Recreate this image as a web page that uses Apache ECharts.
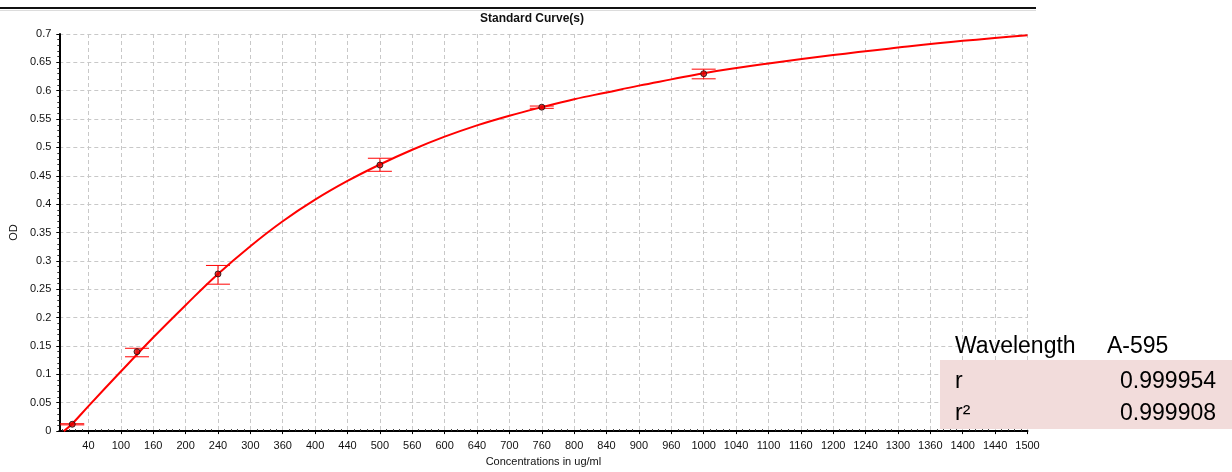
<!DOCTYPE html>
<html>
<head>
<meta charset="utf-8">
<title>Standard Curve(s)</title>
<script src="https://cdn.jsdelivr.net/npm/echarts@6/dist/echarts.min.js"></script>
<style>
  html, body { margin: 0; padding: 0; background: #fff; }
  #chart { width: 1232px; height: 472px; }
</style>
</head>
<body>
<div id="chart"></div>
<script>
// Standards (ug/ml) with mean OD and the low / high ends of the error bars
const standardConc = [25, 125, 250, 500, 750, 1000];
const standardOD   = [0.012, 0.140, 0.277, 0.469, 0.571, 0.630];
const errLow       = [0.011, 0.131, 0.259, 0.458, 0.569, 0.621];
const errHigh      = [0.013, 0.146, 0.292, 0.481, 0.573, 0.638];

// Fitted standard curve, sampled along the concentration range
const curveConc = [12, 25, 50, 100, 150, 200, 250, 300, 350, 400, 450, 500, 550, 600,
                   650, 700, 750, 800, 850, 900, 950, 1000, 1100, 1200, 1300, 1400, 1500];
const curveOD   = [0.000, 0.013, 0.044, 0.105, 0.165, 0.222, 0.277, 0.326, 0.370, 0.408,
                   0.441, 0.470, 0.496, 0.519, 0.539, 0.556, 0.571, 0.585, 0.597, 0.609,
                   0.620, 0.631, 0.648, 0.663, 0.676, 0.688, 0.698];

// Concentration axis ticks and the labels printed under them
const xTickValues = [50, 100, 150, 200, 250, 300, 350, 400, 450, 500, 550, 600, 650, 700, 750,
                     800, 850, 900, 950, 1000, 1050, 1100, 1150, 1200, 1250, 1300, 1350, 1400, 1450, 1500];
const xTickLabels = ['40', '100', '160', '200', '240', '300', '360', '400', '440', '500', '560', '600',
                     '640', '700', '760', '800', '840', '900', '960', '1000', '1040', '1100', '1160',
                     '1200', '1240', '1300', '1360', '1400', '1440', '1500'];
const xMinorValues = [];
for (let i = 0; i < xTickValues.length; i++) {
  for (let k = 1; k < 5; k++) xMinorValues.push(xTickValues[i] - k * 10);
}

// Fit statistics table
const statWavelength = 'A-595';
const statR  = '0.999954';
const statR2 = '0.999908';

const FONT = '"Liberation Sans", Arial, sans-serif';
const RED = '#ff0000';

const chart = echarts.init(document.getElementById('chart'), null, { renderer: 'canvas' });

const curveData = curveConc.map((c, i) => [c, curveOD[i]]);
const pointData = standardConc.map((c, i) => [c, standardOD[i]]);
const errData = standardConc.map((c, i) => [c, errLow[i], errHigh[i]]);

chart.setOption({
  animation: false,
  backgroundColor: '#ffffff',
  title: {
    text: 'Standard Curve(s)',
    left: 480,
    top: 13,
    padding: 0,
    textStyle: { fontFamily: FONT, fontSize: 12, fontWeight: 'bold', color: '#111' }
  },
  grid: { left: 58, top: 34, right: 204.5, bottom: 38, containLabel: false },
  xAxis: [
    {
      type: 'value',
      min: 5,
      max: 1500,
      position: 'bottom',
      name: 'Concentrations in ug/ml',
      nameLocation: 'middle',
      nameGap: 24,
      nameTextStyle: { fontFamily: FONT, fontSize: 11, color: '#111' },
      axisLine: { show: true, onZero: false, lineStyle: { color: '#000', width: 2 } },
      axisTick: { show: true, customValues: xTickValues, length: 3, lineStyle: { color: '#000' } },
      axisLabel: {
        customValues: xTickValues,
        margin: 9,
        fontFamily: FONT,
        fontSize: 11,
        color: '#111',
        formatter: function (v) {
          const idx = xTickValues.indexOf(Math.round(v));
          return idx >= 0 ? xTickLabels[idx] : '';
        }
      },
      splitLine: { show: true, lineStyle: { color: '#c8c8c8', type: [4, 3], width: 1 } }
    },
    {
      type: 'value',
      min: 5,
      max: 1500,
      position: 'bottom',
      axisLine: { show: false },
      axisTick: { show: true, inside: true, customValues: xMinorValues, length: 2, lineStyle: { color: '#333' } },
      axisLabel: { show: false },
      splitLine: { show: false }
    }
  ],
  yAxis: {
    type: 'value',
    min: 0,
    max: 0.7,
    interval: 0.05,
    name: 'OD',
    nameLocation: 'middle',
    nameRotate: 90,
    nameGap: 34,
    nameTextStyle: { fontFamily: FONT, fontSize: 11, color: '#111' },
    axisLine: { show: true, lineStyle: { color: '#000', width: 2 } },
    axisTick: { show: true, length: 3, lineStyle: { color: '#000' } },
    minorTick: { show: true, splitNumber: 5, length: 2, lineStyle: { color: '#333' } },
    axisLabel: {
      margin: 8,
      fontFamily: FONT,
      fontSize: 11,
      color: '#111',
      formatter: function (v) { return String(+v.toFixed(2)); }
    },
    splitLine: { show: true, lineStyle: { color: '#c8c8c8', type: [4, 3], width: 1 } }
  },
  series: [
    {
      name: 'curve',
      type: 'line',
      data: curveData,
      smooth: 0.4,
      showSymbol: false,
      symbol: 'none',
      clip: true,
      lineStyle: { color: RED, width: 2 },
      z: 3
    },
    {
      name: 'error',
      type: 'custom',
      data: errData,
      clip: true,
      z: 4,
      renderItem: function (params, api) {
        const x = api.value(0);
        const lo = api.coord([x, api.value(1)]);
        const hi = api.coord([x, api.value(2)]);
        const hw = 12;
        const st = { stroke: RED, lineWidth: 1 };
        return {
          type: 'group',
          children: [
            { type: 'line', shape: { x1: lo[0], y1: lo[1], x2: hi[0], y2: hi[1] }, style: st },
            { type: 'line', shape: { x1: lo[0] - hw, y1: lo[1], x2: lo[0] + hw, y2: lo[1] }, style: st },
            { type: 'line', shape: { x1: hi[0] - hw, y1: hi[1], x2: hi[0] + hw, y2: hi[1] }, style: st }
          ]
        };
      }
    },
    {
      name: 'standards',
      type: 'scatter',
      data: pointData,
      symbol: 'circle',
      symbolSize: 6,
      itemStyle: { color: '#e00000', borderColor: '#111', borderWidth: 1 },
      z: 5
    }
  ],
  graphic: [
    { type: 'line', shape: { x1: 0, y1: 8, x2: 1036, y2: 8 }, style: { stroke: '#111', lineWidth: 2 } },
    { type: 'line', shape: { x1: 0, y1: 10.5, x2: 1036, y2: 10.5 }, style: { stroke: '#dcdcdc', lineWidth: 1 } },
    { type: 'rect', shape: { x: 940, y: 360, width: 292, height: 69 }, style: { fill: '#f2dcdb' }, z: 10 },
    { type: 'text', x: 955, y: 347, z: 11,
      style: { text: 'Wavelength', font: '23px ' + FONT, fill: '#000', align: 'left', verticalAlign: 'middle' } },
    { type: 'text', x: 1107, y: 347, z: 11,
      style: { text: statWavelength, font: '23px ' + FONT, fill: '#000', align: 'left', verticalAlign: 'middle' } },
    { type: 'text', x: 955, y: 382, z: 11,
      style: { text: 'r', font: '23px ' + FONT, fill: '#000', align: 'left', verticalAlign: 'middle' } },
    { type: 'text', x: 1216, y: 382, z: 11,
      style: { text: statR, font: '23px ' + FONT, fill: '#000', align: 'right', verticalAlign: 'middle' } },
    { type: 'text', x: 955, y: 414, z: 11,
      style: { text: 'r²', font: '23px ' + FONT, fill: '#000', align: 'left', verticalAlign: 'middle' } },
    { type: 'text', x: 1216, y: 414, z: 11,
      style: { text: statR2, font: '23px ' + FONT, fill: '#000', align: 'right', verticalAlign: 'middle' } }
  ]
});
</script>
</body>
</html>
